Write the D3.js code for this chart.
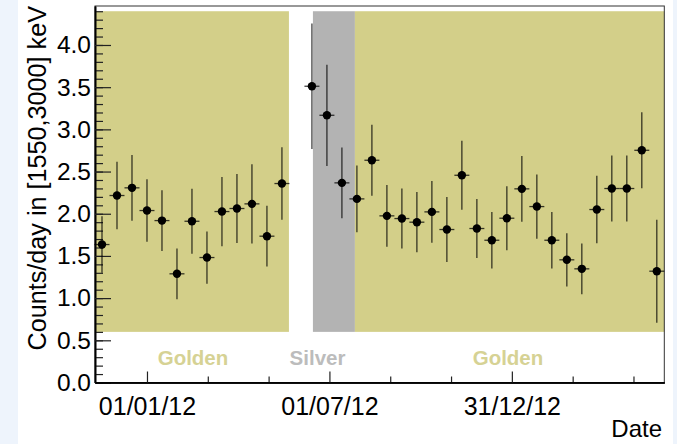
<!DOCTYPE html>
<html>
<head>
<meta charset="utf-8">
<script src="https://cdn.jsdelivr.net/npm/d3@7.9.0/dist/d3.min.js"></script>
<style>
  body { margin: 0; background: #eef4fc; }
  svg { display: block; font-family: "Liberation Sans", Arial, sans-serif; }
</style>
</head>
<body>
<svg id="chart" width="677" height="444"></svg>
<script>
// bin centres (15 day bins), measured rate and its error
const dates = ['2011-11-17', '2011-12-02', '2011-12-17', '2012-01-01', '2012-01-16', '2012-01-31',
  '2012-02-15', '2012-03-01', '2012-03-16', '2012-03-31', '2012-04-15', '2012-04-30', '2012-05-15',
  '2012-06-14', '2012-06-29', '2012-07-14', '2012-07-29', '2012-08-13', '2012-08-28', '2012-09-12',
  '2012-09-27', '2012-10-12', '2012-10-27', '2012-11-11', '2012-11-26', '2012-12-11', '2012-12-26',
  '2013-01-10', '2013-01-25', '2013-02-09', '2013-02-24', '2013-03-11', '2013-03-26', '2013-04-10',
  '2013-04-25', '2013-05-10', '2013-05-25'];
const counts = [1.635, 2.216, 2.307, 2.038, 1.919, 1.288, 1.911, 1.481, 2.026, 2.062, 2.117, 1.734, 2.358,
  3.511, 3.167, 2.366, 2.176, 2.634, 1.975, 1.943, 1.900, 2.022, 1.813, 2.456, 1.825, 1.686, 1.947,
  2.295, 2.085, 1.686, 1.454, 1.347, 2.050, 2.299, 2.299, 2.752, 1.319];
const errors = [0.335, 0.40, 0.39, 0.37, 0.36, 0.30, 0.385, 0.31, 0.41, 0.41, 0.47, 0.36, 0.43,
  0.745, 0.60, 0.42, 0.395, 0.42, 0.365, 0.355, 0.357, 0.365, 0.385, 0.41, 0.35, 0.335, 0.38,
  0.39, 0.38, 0.335, 0.315, 0.30, 0.40, 0.39, 0.39, 0.45, 0.61];
const binHalfDays = 7.5;

// data taking periods
const periodLabels = ['Golden', 'Silver', 'Golden'];
const periodStart = ['2011-11-10', '2012-06-15', '2012-07-27'];
const periodEnd = ['2012-05-22', '2012-07-27', '2013-06-01T12:00'];
const periodColors = { Golden: '#d3cf89', Silver: '#b3b3b3' };
const periodTextColors = { Golden: '#d6d294', Silver: '#bcbcbc' };

// axis ticks
const majorTicks = ['2012-01-01', '2012-07-01T12:00', '2012-12-31'];
const majorLabels = ['01/01/12', '01/07/12', '31/12/12'];
const minorTicks = ['2012-03-01T20:00', '2012-05-01T16:00', '2012-08-31T08:00', '2012-10-31T04:00',
  '2013-03-01T20:00', '2013-05-01T16:00'];
const yMajor = [0, 0.5, 1, 1.5, 2, 2.5, 3, 3.5, 4];
const yMinor = d3.range(0, 4.45, 0.1);

const parse = (s) => new Date(s.length === 10 ? s + 'T00:00:00Z' : s + ':00Z');

const svg = d3.select('#chart');
const plotLeft = 95, plotRight = 664.3, plotTop = 6, plotBottom = 382.5;

svg.append('rect').attr('x', 18).attr('y', 0).attr('width', 655).attr('height', 444).attr('fill', '#fff');

const x = d3.scaleUtc()
  .domain([parse('2011-11-10'), parse('2013-06-01T12:00')])
  .range([plotLeft, plotRight]);
const y = d3.scaleLinear().domain([0, 4.462]).range([plotBottom, plotTop]);

// period bands
const periods = periodLabels.map((label, i) => ({ label, start: parse(periodStart[i]), end: parse(periodEnd[i]) }));
svg.selectAll('rect.band')
  .data(periods)
  .join('rect')
  .attr('class', 'band')
  .attr('x', (d) => x(d.start))
  .attr('width', (d) => x(d.end) - x(d.start))
  .attr('y', y(4.4))
  .attr('height', y(0.6) - y(4.4))
  .attr('fill', (d) => periodColors[d.label]);

svg.selectAll('text.band')
  .data(periods)
  .join('text')
  .attr('class', 'band')
  .attr('x', (d, i) => i === 2 ? 508 : (i === 1 ? 317.5 : 193))
  .attr('y', 365)
  .attr('text-anchor', 'middle')
  .attr('font-size', 20.5)
  .attr('font-weight', 'bold')
  .attr('fill', (d) => periodTextColors[d.label])
  .text((d) => d.label);

// frame
svg.append('rect')
  .attr('x', plotLeft).attr('y', plotTop)
  .attr('width', plotRight - plotLeft).attr('height', plotBottom - plotTop)
  .attr('fill', 'none').attr('stroke', '#333').attr('stroke-width', 1);

// axes
const yAxisMinor = d3.axisLeft(y).tickValues(yMinor).tickSizeInner(-8).tickSizeOuter(0).tickFormat('');
const yAxis = d3.axisLeft(y).tickValues(yMajor).tickSizeInner(-16).tickSizeOuter(0)
  .tickPadding(4).tickFormat(d3.format('.1f'));
svg.append('g').attr('transform', `translate(${plotLeft},0)`).call(yAxisMinor);
const gy = svg.append('g').attr('transform', `translate(${plotLeft},0)`).call(yAxis);
gy.selectAll('text').attr('font-size', 24.5).attr('fill', '#000');

const xAxisMinor = d3.axisBottom(x).tickValues(minorTicks.map(parse)).tickSizeInner(-6).tickSizeOuter(0).tickFormat('');
const xAxis = d3.axisBottom(x).tickValues(majorTicks.map(parse)).tickSizeInner(-11).tickSizeOuter(0)
  .tickPadding(15).tickFormat((d, i) => majorLabels[i]);
svg.append('g').attr('transform', `translate(0,${plotBottom})`).call(xAxisMinor);
const gx = svg.append('g').attr('transform', `translate(0,${plotBottom})`).call(xAxis);
gx.selectAll('text').attr('font-size', 25).attr('fill', '#000');

svg.selectAll('.domain').attr('stroke', '#000').attr('stroke-width', 1.6);
svg.selectAll('.tick line').attr('stroke', '#222').attr('stroke-width', 1.2);

// axis titles
svg.append('text')
  .attr('transform', `translate(46,${plotTop}) rotate(-90)`)
  .attr('text-anchor', 'end')
  .attr('font-size', 25.2)
  .text('Counts/day in [1550,3000] keV');
svg.append('text')
  .attr('x', 662).attr('y', 437)
  .attr('text-anchor', 'end')
  .attr('font-size', 24)
  .text('Date');

// data points with error bars
const points = dates.map((d, i) => ({ date: parse(d), value: counts[i], err: errors[i] }));
const dayMs = 86400000;
const g = svg.append('g');
g.selectAll('line.ey')
  .data(points)
  .join('line')
  .attr('class', 'ey')
  .attr('x1', (d) => x(d.date)).attr('x2', (d) => x(d.date))
  .attr('y1', (d) => y(d.value - d.err)).attr('y2', (d) => y(d.value + d.err))
  .attr('stroke', '#000').attr('stroke-opacity', 0.75).attr('stroke-width', 1.3);
g.selectAll('line.ex')
  .data(points)
  .join('line')
  .attr('class', 'ex')
  .attr('x1', (d) => x(new Date(+d.date - binHalfDays * dayMs)))
  .attr('x2', (d) => x(new Date(+d.date + binHalfDays * dayMs)))
  .attr('y1', (d) => y(d.value)).attr('y2', (d) => y(d.value))
  .attr('stroke', '#000').attr('stroke-opacity', 0.75).attr('stroke-width', 1.3);
g.selectAll('circle')
  .data(points)
  .join('circle')
  .attr('cx', (d) => x(d.date))
  .attr('cy', (d) => y(d.value))
  .attr('r', 4.2)
  .attr('fill', '#000');
</script>
</body>
</html>
